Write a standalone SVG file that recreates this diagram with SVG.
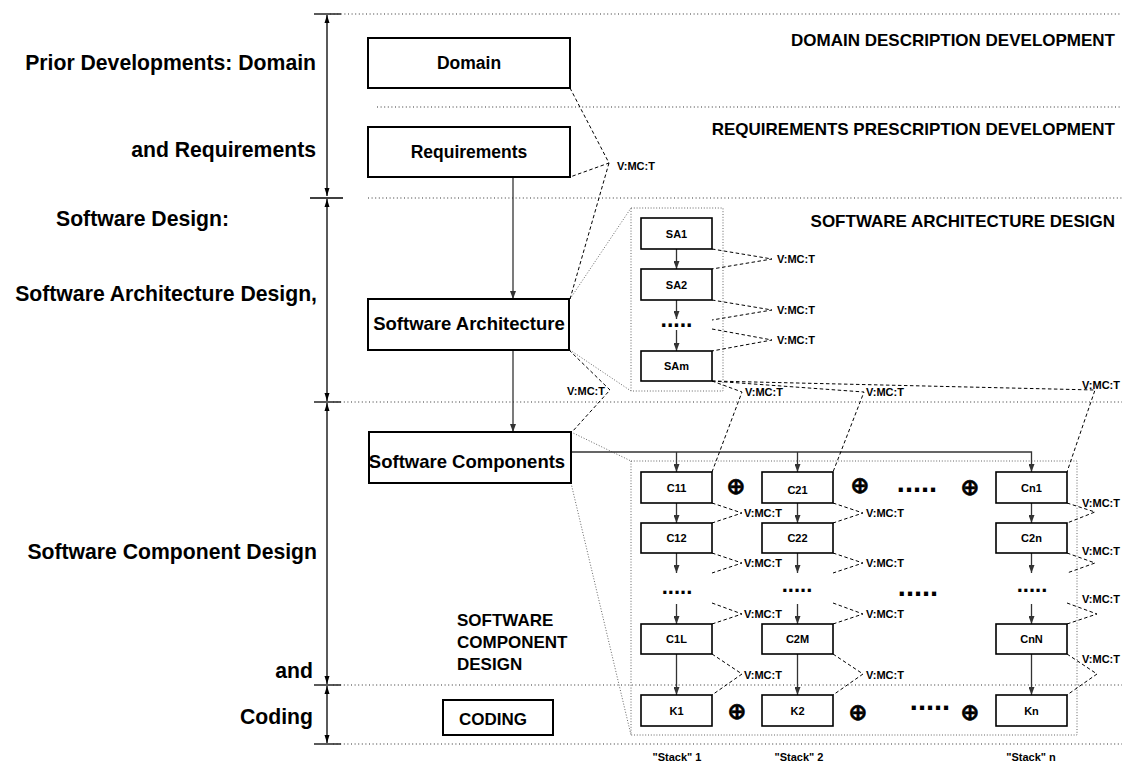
<svg xmlns="http://www.w3.org/2000/svg" width="1122" height="767" viewBox="0 0 1122 767">
  <defs>
    <style>
      .sep { stroke:#333; stroke-width:1.2; stroke-dasharray:1 2.6; fill:none; }
      .fine { stroke:#555; stroke-width:0.9; stroke-dasharray:1 1.8; fill:none; }
      .vmc { stroke:#000; stroke-width:1; stroke-dasharray:3.5 2.5; fill:none; }
      .box { fill:#fff; stroke:#000; stroke-width:2; }
      .sbox { fill:#fff; stroke:#000; stroke-width:1.6; }
      .flow { stroke:#333; stroke-width:1.3; fill:none; marker-end:url(#ah); }
      .axis { stroke:#000; stroke-width:1.3; fill:none; marker-start:url(#ax); marker-end:url(#ax); }
      .tick { stroke:#000; stroke-width:1.3; }
      text { font-family:"Liberation Sans", Arial, sans-serif; font-weight:bold; fill:#000; }
      .side { font-size:21.2px; }
      .head { font-size:17px; text-anchor:end; }
      .big { font-size:18.5px; text-anchor:middle; }
      .mid { font-size:17.5px; text-anchor:middle; }
      .small { font-size:11px; text-anchor:middle; }
      .lbl { font-size:11px; }
      .oplus { font-family:"DejaVu Sans", sans-serif; font-weight:bold; font-size:23px; text-anchor:middle; stroke:#000; stroke-width:0.6; }
      .dots { text-anchor:middle; }
    </style>
    <marker id="ah" viewBox="0 0 8 6" refX="8" refY="3" markerWidth="8" markerHeight="6" markerUnits="userSpaceOnUse" orient="auto">
      <path d="M0,0 L8,3 L0,6 z" fill="#333"/>
    </marker>
    <marker id="ax" viewBox="0 0 8 6" refX="8" refY="3" markerWidth="8" markerHeight="6" markerUnits="userSpaceOnUse" orient="auto-start-reverse">
      <path d="M0,0.5 L8,3 L0,5.5 z" fill="#000"/>
    </marker>
  </defs>

  <rect width="1122" height="767" fill="#fff"/>

  <!-- phase axis with boundary ticks -->
  <g id="axis">
    <line class="axis" x1="327" y1="15" x2="327" y2="196"/>
    <line class="axis" x1="327" y1="199" x2="327" y2="401"/>
    <line class="axis" x1="327" y1="403" x2="327" y2="684"/>
    <line class="axis" x1="327" y1="686" x2="327" y2="743"/>
    <line class="tick" x1="314" y1="14" x2="341" y2="14"/>
    <line class="tick" x1="310" y1="198" x2="343" y2="198"/>
    <line class="tick" x1="314" y1="402" x2="341" y2="402"/>
    <line class="tick" x1="314" y1="685" x2="341" y2="685"/>
    <line class="tick" x1="314" y1="744" x2="341" y2="744"/>
  </g>

  <!-- phase separators -->
  <g id="separators">
    <line class="sep" x1="330" y1="14" x2="1122" y2="14"/>
    <line class="sep" x1="377" y1="107" x2="1122" y2="107"/>
    <line class="sep" x1="368" y1="198" x2="1122" y2="198"/>
    <line class="sep" x1="333" y1="402" x2="1122" y2="402"/>
    <line class="sep" x1="333" y1="685" x2="1122" y2="685"/>
    <line class="sep" x1="333" y1="744" x2="1122" y2="744"/>
  </g>

  <!-- phase names -->
  <g id="phase-labels">
    <text class="side" x="316" y="70" text-anchor="end">Prior Developments: Domain</text>
    <text class="side" x="316" y="157" text-anchor="end">and Requirements</text>
    <text class="side" x="56" y="226">Software Design:</text>
    <text class="side" x="317" y="301" text-anchor="end">Software Architecture Design,</text>
    <text class="side" x="317" y="559" text-anchor="end">Software Component Design</text>
    <text class="side" x="313" y="678" text-anchor="end">and</text>
    <text class="side" x="313" y="724" text-anchor="end">Coding</text>
    <text class="head" x="1115" y="46">DOMAIN DESCRIPTION DEVELOPMENT</text>
    <text class="head" x="1115" y="135">REQUIREMENTS PRESCRIPTION DEVELOPMENT</text>
    <text class="head" x="1115" y="227">SOFTWARE ARCHITECTURE DESIGN</text>
    <text style="font-size:17px" x="457" y="626">SOFTWARE</text>
    <text style="font-size:17px" x="457" y="648">COMPONENT</text>
    <text style="font-size:17px" x="457" y="670">DESIGN</text>
    <text class="small" x="677" y="761">"Stack" 1</text>
    <text class="small" x="799" y="761">"Stack" 2</text>
    <text class="small" x="1031" y="761">"Stack" n</text>
  </g>

  <!-- expansion outlines (fine dotted) -->
  <g id="expansions">
    <rect class="fine" x="631" y="208" width="92" height="183"/>
    <rect class="fine" x="631" y="461" width="446" height="274"/>
    <line class="fine" x1="570" y1="299" x2="631" y2="208"/>
    <line class="fine" x1="570" y1="350" x2="631" y2="391"/>
    <line class="fine" x1="571" y1="432" x2="631" y2="461"/>
    <line class="fine" x1="571" y1="483" x2="631" y2="735"/>
  </g>

  <!-- connectors -->
  <g id="connectors">
    <!-- refinement flow -->
    <line class="flow" x1="513" y1="177" x2="513" y2="299"/>
    <line class="flow" x1="513" y1="350" x2="513" y2="432"/>
    <path class="flow" d="M571,452 H1031.5 V472"/>
    <line class="flow" x1="676.5" y1="452" x2="676.5" y2="472"/>
    <line class="flow" x1="797.5" y1="452" x2="797.5" y2="472"/>
    <!-- architecture stack -->
    <line class="flow" x1="676.5" y1="249" x2="676.5" y2="269"/>
    <line class="flow" x1="676.5" y1="300" x2="676.5" y2="319"/>
    <line class="flow" x1="676.5" y1="330" x2="676.5" y2="351"/>
    <!-- component stacks -->
    <line class="flow" x1="676.5" y1="503" x2="676.5" y2="523"/>
    <line class="flow" x1="676.5" y1="553" x2="676.5" y2="573"/>
    <line class="flow" x1="676.5" y1="604" x2="676.5" y2="624"/>
    <line class="flow" x1="676.5" y1="654" x2="676.5" y2="695"/>
    <line class="flow" x1="797.5" y1="503" x2="797.5" y2="523"/>
    <line class="flow" x1="797.5" y1="553" x2="797.5" y2="573"/>
    <line class="flow" x1="797.5" y1="604" x2="797.5" y2="624"/>
    <line class="flow" x1="797.5" y1="654" x2="797.5" y2="695"/>
    <line class="flow" x1="1031.5" y1="503" x2="1031.5" y2="523"/>
    <line class="flow" x1="1031.5" y1="553" x2="1031.5" y2="573"/>
    <line class="flow" x1="1031.5" y1="604" x2="1031.5" y2="624"/>
    <line class="flow" x1="1031.5" y1="654" x2="1031.5" y2="695"/>

    <!-- verification links -->
    <path class="vmc" d="M570,88 L609,163 L570,177"/>
    <path class="vmc" d="M609,163 L570,299"/>
    <path class="vmc" d="M569,350 L610,390 L572,432"/>
    <path class="vmc" d="M712,249 L772,259 L712,269"/>
    <path class="vmc" d="M712,300 L772,310 L712,320"/>
    <path class="vmc" d="M712,329 L772,340 L712,351"/>
    <path class="vmc" d="M712,381 L742,392 L712,472"/>
    <path class="vmc" d="M712,381 L864,392 L833,472"/>
    <path class="vmc" d="M712,381 L1095,390 L1067,472"/>
    <path class="vmc" d="M712,503 L742,513 L712,523"/>
    <path class="vmc" d="M712,553 L742,563 L712,573"/>
    <path class="vmc" d="M712,603 L742,614 L712,624"/>
    <path class="vmc" d="M712,654 L742,674 L712,695"/>
    <path class="vmc" d="M833,503 L863,513 L833,523"/>
    <path class="vmc" d="M833,553 L863,563 L833,573"/>
    <path class="vmc" d="M833,603 L863,614 L833,624"/>
    <path class="vmc" d="M833,654 L863,674 L833,695"/>
    <path class="vmc" d="M1067,503 L1095,512 L1067,523"/>
    <path class="vmc" d="M1067,553 L1095,563 L1067,573"/>
    <path class="vmc" d="M1067,603 L1097,614 L1067,624"/>
    <path class="vmc" d="M1067,654 L1097,674 L1067,695"/>

    <text class="lbl" x="617" y="170">V:MC:T</text>
    <text class="lbl" x="605" y="395" text-anchor="end">V:MC:T</text>
    <text class="lbl" x="777" y="263">V:MC:T</text>
    <text class="lbl" x="777" y="314">V:MC:T</text>
    <text class="lbl" x="777" y="344">V:MC:T</text>
    <text class="lbl" x="745" y="396">V:MC:T</text>
    <text class="lbl" x="866" y="396">V:MC:T</text>
    <text class="lbl" x="1120" y="389" text-anchor="end">V:MC:T</text>
    <text class="lbl" x="744" y="517">V:MC:T</text>
    <text class="lbl" x="744" y="567">V:MC:T</text>
    <text class="lbl" x="744" y="618">V:MC:T</text>
    <text class="lbl" x="744" y="679">V:MC:T</text>
    <text class="lbl" x="866" y="517">V:MC:T</text>
    <text class="lbl" x="866" y="567">V:MC:T</text>
    <text class="lbl" x="866" y="618">V:MC:T</text>
    <text class="lbl" x="866" y="679">V:MC:T</text>
    <text class="lbl" x="1120" y="507" text-anchor="end">V:MC:T</text>
    <text class="lbl" x="1120" y="555" text-anchor="end">V:MC:T</text>
    <text class="lbl" x="1120" y="603" text-anchor="end">V:MC:T</text>
    <text class="lbl" x="1120" y="663" text-anchor="end">V:MC:T</text>
  </g>

  <!-- main development documents -->
  <g id="domain">
    <rect class="box" x="368" y="38" width="202" height="50"/>
    <text class="mid" x="469" y="69">Domain</text>
  </g>
  <g id="requirements">
    <rect class="box" x="368" y="127" width="202" height="50"/>
    <text class="mid" x="469" y="158">Requirements</text>
  </g>
  <g id="software-architecture">
    <rect class="box" x="368" y="299" width="201" height="51"/>
    <text class="big" x="469" y="330">Software Architecture</text>
  </g>
  <g id="software-components">
    <rect class="box" x="369" y="432" width="202" height="51"/>
    <text class="big" x="467" y="468">Software Components</text>
  </g>
  <g id="coding">
    <rect class="box" x="443" y="700" width="110" height="35"/>
    <text style="font-size:17px" x="459" y="725">CODING</text>
  </g>

  <!-- architecture refinement steps -->
  <g id="sa1"><rect class="sbox" x="641" y="218" width="71" height="31"/><text class="small" x="676.5" y="238">SA1</text></g>
  <g id="sa2"><rect class="sbox" x="641" y="269" width="71" height="31"/><text class="small" x="676.5" y="289">SA2</text></g>
  <g id="sa-more"><text class="dots" style="font-size:23px" x="676.5" y="327">.....</text></g>
  <g id="sam"><rect class="sbox" x="641" y="351" width="71" height="30"/><text class="small" x="676.5" y="370">SAm</text></g>

  <!-- component stack 1 -->
  <g id="c11"><rect class="sbox" x="641" y="472" width="71" height="31"/><text class="small" x="676.5" y="492">C11</text></g>
  <g id="c12"><rect class="sbox" x="641" y="523" width="71" height="30"/><text class="small" x="676.5" y="542">C12</text></g>
  <g id="c1-more"><text class="dots" style="font-size:22px" x="677" y="594">.....</text></g>
  <g id="c1l"><rect class="sbox" x="641" y="624" width="71" height="30"/><text class="small" x="676.5" y="643">C1L</text></g>
  <g id="k1"><rect class="sbox" x="641" y="695" width="71" height="31"/><text class="small" x="676.5" y="715">K1</text></g>

  <!-- component stack 2 -->
  <g id="c21"><rect class="sbox" x="762" y="472" width="71" height="31"/><text class="small" x="797.5" y="494">C21</text></g>
  <g id="c22"><rect class="sbox" x="762" y="523" width="71" height="30"/><text class="small" x="797.5" y="542">C22</text></g>
  <g id="c2-more"><text class="dots" style="font-size:22px" x="797" y="592">.....</text></g>
  <g id="c2m"><rect class="sbox" x="762" y="624" width="71" height="30"/><text class="small" x="797.5" y="643">C2M</text></g>
  <g id="k2"><rect class="sbox" x="762" y="695" width="71" height="31"/><text class="small" x="797.5" y="715">K2</text></g>

  <!-- component stack n -->
  <g id="cn1"><rect class="sbox" x="996" y="472" width="71" height="31"/><text class="small" x="1031.5" y="492">Cn1</text></g>
  <g id="c2n"><rect class="sbox" x="996" y="523" width="71" height="30"/><text class="small" x="1031.5" y="542">C2n</text></g>
  <g id="cn-more"><text class="dots" style="font-size:22px" x="1032" y="592">.....</text></g>
  <g id="cnn"><rect class="sbox" x="996" y="624" width="71" height="30"/><text class="small" x="1031.5" y="643">CnN</text></g>
  <g id="kn"><rect class="sbox" x="996" y="695" width="71" height="31"/><text class="small" x="1031.5" y="715">Kn</text></g>

  <!-- composition operators between stacks -->
  <g id="composition">
    <text class="oplus" x="736" y="494">⊕</text>
    <text class="oplus" x="860" y="493">⊕</text>
    <text class="dots" style="font-size:29px" x="917" y="492">.....</text>
    <text class="oplus" x="970" y="495">⊕</text>
    <text class="dots" style="font-size:29px" x="918" y="596">.....</text>
    <text class="oplus" x="737" y="719">⊕</text>
    <text class="oplus" x="858" y="720">⊕</text>
    <text class="dots" style="font-size:29px" x="930" y="710">.....</text>
    <text class="oplus" x="970" y="720">⊕</text>
  </g>
</svg>
